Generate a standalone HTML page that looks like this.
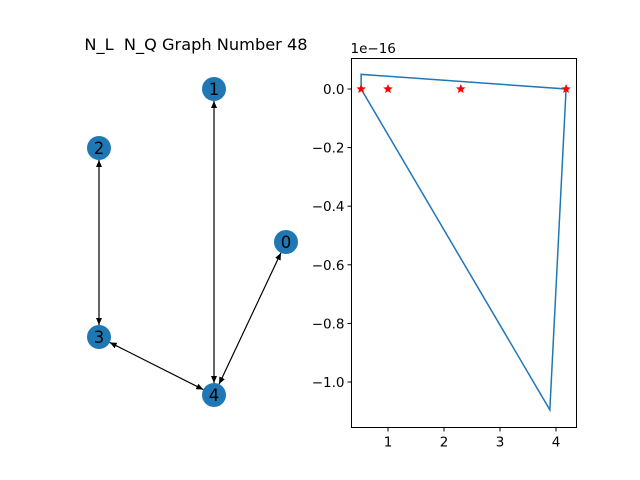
<!DOCTYPE html>
<html><head><meta charset="utf-8"><style>
body{margin:0;background:#fff}
svg{display:block;font-family:"DejaVu Sans","Liberation Sans",sans-serif}
text{white-space:pre}
</style></head><body>
<svg id="c" width="640" height="480">
<defs><marker id="ah" markerWidth="8" markerHeight="8" refX="7" refY="4" orient="auto-start-reverse" markerUnits="userSpaceOnUse"><path d="M0,1 L7,4 L0,7 z" fill="#000"/></marker></defs>
<text x="196" y="50" font-size="16.2" text-anchor="middle" xml:space="preserve">N_L  N_Q Graph Number 48</text>
<g id="graph"></g>
<g id="plot"></g>
</svg>
<script>
const nodeIds=[0,1,2,3,4];
const nodeX=[286,214,99,99,214];
const nodeY=[242,89,148,337,395];
const edges=[[2,3],[1,4],[3,4],[4,0]];
const lineX=[0.52,0.52,4.18,3.89,0.52];
const lineY=[0,0.05,0,-1.095,0];
const starX=[0.52,1.0,2.3,4.18];
const starY=[0,0,0,0];
const xTicks=[1,2,3,4];
const yTicks=[0.0,-0.2,-0.4,-0.6,-0.8,-1.0];
const NS="http://www.w3.org/2000/svg";
function mk(t,a,p){const e=document.createElementNS(NS,t);for(const k in a)e.setAttribute(k,a[k]);p.appendChild(e);return e;}
const g=document.getElementById('graph');
const R=12;
edges.forEach(([a,b])=>{
 const x1=nodeX[a],y1=nodeY[a],x2=nodeX[b],y2=nodeY[b];
 const d=Math.hypot(x2-x1,y2-y1),ux=(x2-x1)/d,uy=(y2-y1)/d;
 const l=mk('line',{x1:x1+ux*R,y1:y1+uy*R,x2:x2-ux*R,y2:y2-uy*R,stroke:'#000','stroke-width':1.2,'marker-end':'url(#ah)','marker-start':'url(#ah)'},g);
 
 
});
nodeIds.forEach((id,i)=>{
 const c=mk('circle',{cx:nodeX[i],cy:nodeY[i],r:R,fill:'#1f77b4'},g);
 
 
 const t=mk('text',{x:nodeX[i],y:nodeY[i]+6,'font-size':16.5,'text-anchor':'middle',fill:'#000'},g);
 t.textContent=id;
 
 
});
const p=document.getElementById('plot');
const L=351.5,Rr=576.5,T=58.5,B=427.5;
const sx=v=>332+56*v, sy=v=>89-293*v;
const ln=mk('polyline',{points:lineX.map((x,i)=>sx(x)+','+sy(lineY[i])).join(' '),fill:'none',stroke:'#1f77b4','stroke-width':1.5},p);


starX.forEach((x,i)=>{
 const cx=sx(x),cy=sy(starY[i]);let pts=[];
 for(let k=0;k<10;k++){const r=k%2?2.2:5,a=-Math.PI/2+k*Math.PI/5;pts.push((cx+r*Math.cos(a)).toFixed(1)+','+(cy+r*Math.sin(a)).toFixed(1));}
 const s=mk('polygon',{points:pts.join(' '),fill:'red'},p);
 
 
});
const fr=mk('rect',{x:L,y:T,width:Rr-L,height:B-T,fill:'none',stroke:'#000','stroke-width':1},p);


xTicks.forEach(v=>{
 mk('line',{x1:sx(v),x2:sx(v),y1:B,y2:B+4,stroke:'#000'},p);
 const t=mk('text',{x:sx(v),y:B+19,'font-size':13.5,'text-anchor':'middle'},p);
 t.textContent=v;
 
 
});
yTicks.forEach(v=>{
 mk('line',{x1:L-4,x2:L,y1:sy(v),y2:sy(v),stroke:'#000'},p);
 const t=mk('text',{x:L-7,y:sy(v)+5,'font-size':13.5,'text-anchor':'end'},p);
 t.textContent=(v<0?'\u2212':'')+Math.abs(v).toFixed(1);
 
 
});
const off=mk('text',{x:L-1,y:53,'font-size':13.5},p);
off.textContent='1e\u221216';


</script>
</body></html>
